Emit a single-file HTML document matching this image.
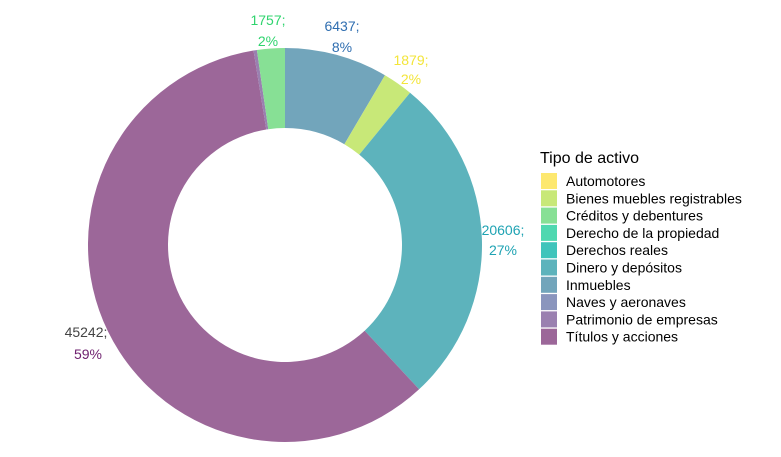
<!DOCTYPE html>
<html><head><meta charset="utf-8"><style>
body{margin:0;background:#fff;width:781px;height:452px;overflow:hidden;font-family:"Liberation Sans",Arial,sans-serif}
</style></head><body>
<svg id="s" width="781" height="452" xmlns="http://www.w3.org/2000/svg" font-family="Liberation Sans, Arial, sans-serif">
<g id="pie"></g>
<g font-size="14" text-anchor="middle">
<text x="268" y="25" fill="#2fd46e">1757;</text><text x="268" y="46" fill="#2fd46e">2%</text>
<text x="342" y="31" fill="#2f6eb0">6437;</text><text x="342" y="52" fill="#2f6eb0">8%</text>
<text x="411" y="65" fill="#f3e53a">1879;</text><text x="411" y="84" fill="#f3e53a">2%</text>
<text x="503" y="235" fill="#1fa3b3">20606;</text><text x="503" y="255" fill="#1fa3b3">27%</text>
<text x="86" y="337" fill="#444">45242;</text><text x="88" y="359" fill="#6e1f6e">59%</text>
</g>
<text x="540" y="163" font-size="16" fill="#000">Tipo de activo</text>
<g id="leg" font-size="14" fill="#000"></g>
</svg>
<script>
var cx=285,cy=245,R=197,r=117;
function p(a,rad){var t=(a-90)*Math.PI/180;return [cx+rad*Math.cos(t),cy+rad*Math.sin(t)];}
var segs=[[0,30.5,"#72a5bb"],[30.5,39.4,"#c8e878"],[39.4,137.1,"#5db3bc"],[137.1,350.8,"#9c6799"],[350.8,351.8,"#9a80b0"],[351.8,360,"#87e095"]];
var g=document.getElementById("pie"),h="";
segs.forEach(function(s){var a=p(s[0],R),b=p(s[1],R),c=p(s[1],r),d=p(s[0],r),l=(s[1]-s[0])>180?1:0;
h+='<path fill="'+s[2]+'" d="M'+a+' A'+R+' '+R+' 0 '+l+' 1 '+b+' L'+c+' A'+r+' '+r+' 0 '+l+' 0 '+d+'Z"/>';});
g.innerHTML=h;
var items=[["Automotores","#fde86f"],["Bienes muebles registrables","#c8e878"],["Créditos y debentures","#87e095"],["Derecho de la propiedad","#4fd8b0"],["Derechos reales","#3fc4bb"],["Dinero y depósitos","#5db3bc"],["Inmuebles","#72a5bb"],["Naves y aeronaves","#8a95bd"],["Patrimonio de empresas","#9a80b0"],["Títulos y acciones","#9c6799"]];
var L="";items.forEach(function(it,i){var y=173+i*17.3;
L+='<rect x="541" y="'+y+'" width="16" height="16" fill="'+it[1]+'"/><text x="566" y="'+(y+13)+'">'+it[0]+'</text>';});
document.getElementById("leg").innerHTML=L;
</script>
</body></html>
